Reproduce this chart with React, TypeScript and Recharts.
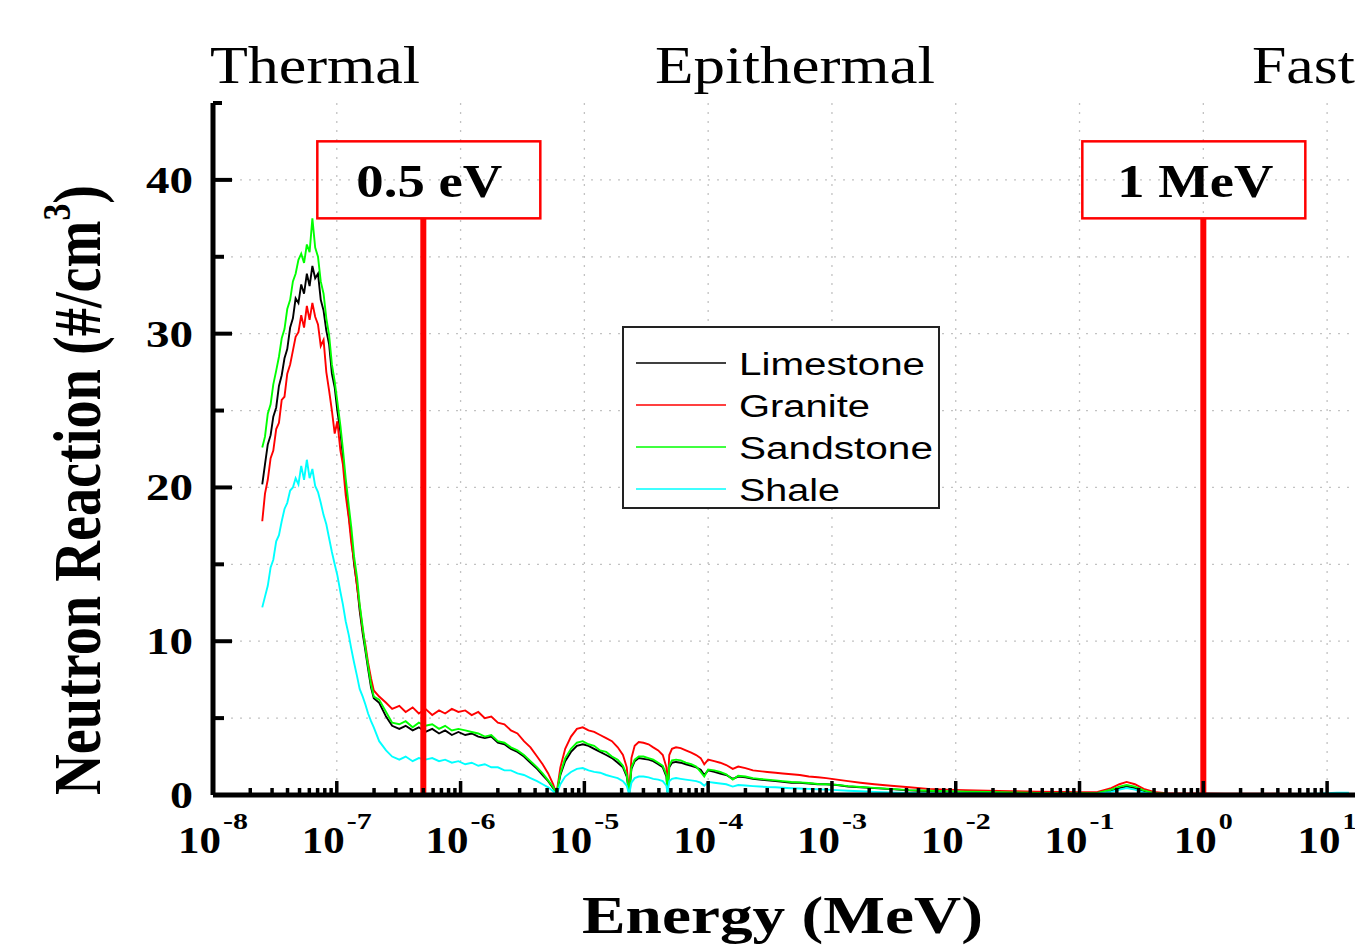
import React from 'react';
import { LineChart, Line, XAxis, YAxis, CartesianGrid, ReferenceLine, Legend } from 'recharts';

// ---------- DATA ----------
const energy = [
  2.5e-8, 2.63e-8, 2.77e-8, 2.92e-8, 3.07e-8, 3.24e-8, 3.41e-8, 3.59e-8, 3.78e-8, 3.98e-8,
  4.2e-8, 4.42e-8, 4.65e-8, 4.9e-8, 5.16e-8, 5.44e-8, 5.73e-8, 6.03e-8, 6.35e-8, 6.69e-8,
  7.05e-8, 7.42e-8, 7.82e-8, 8.23e-8, 8.67e-8, 9.13e-8, 9.62e-8, 1.01e-7, 1.07e-7, 1.12e-7,
  1.18e-7, 1.25e-7, 1.31e-7, 1.38e-7, 1.46e-7, 1.53e-7, 1.62e-7, 1.7e-7, 1.79e-7, 1.89e-7,
  1.99e-7,
  2.2e-7, 2.5e-7, 2.8e-7, 3.2e-7, 3.6e-7, 4.1e-7, 4.6e-7, 5.2e-7, 5.9e-7, 6.7e-7,
  7.5e-7, 8.5e-7, 9.6e-7, 1.09e-6, 1.23e-6, 1.39e-6, 1.57e-6, 1.77e-6, 2.0e-6, 2.26e-6,
  2.55e-6, 2.88e-6, 3.25e-6, 3.67e-6, 4.15e-6, 4.6e-6, 5.1e-6, 5.6e-6, 5.95e-6,
  6.4e-6, 7.0e-6, 7.8e-6, 8.7e-6, 9.7e-6, 1.08e-5, 1.2e-5, 1.34e-5, 1.5e-5, 1.67e-5,
  1.86e-5, 2.05e-5, 2.2e-5, 2.3e-5,
  2.4e-5, 2.55e-5, 2.75e-5, 3.0e-5, 3.3e-5, 3.6e-5, 3.95e-5, 4.3e-5, 4.6e-5, 4.7e-5,
  4.85e-5, 5.1e-5, 5.5e-5, 6.0e-5, 6.6e-5, 7.3e-5, 8.0e-5, 8.7e-5, 9.3e-5, 1.0e-4,
  1.12e-4, 1.25e-4, 1.4e-4, 1.58e-4, 1.75e-4, 2.0e-4, 2.3e-4, 2.6e-4, 3.0e-4, 3.5e-4,
  4.0e-4, 4.7e-4, 5.5e-4, 6.5e-4, 7.7e-4, 9.0e-4, 1.1e-3, 1.35e-3, 1.7e-3, 2.2e-3,
  3.0e-3, 4.2e-3, 6e-3, 8.5e-3, 1.2e-2, 1.8e-2, 2.8e-2, 4.5e-2, 7e-2, 1.0e-1,
  1.4e-1, 1.8e-1, 2.1e-1, 2.4e-1, 2.8e-1, 3.3e-1, 4.0e-1, 5e-1, 7e-1, 1.0,
  1.5, 2.5, 4, 6, 9, 12, 15,
];

const limestone = [
  20.2, 21.5, 22.8, 23.4, 24.6, 25.2, 26.6, 27.3, 28.4, 29.0,
  30.4, 31.0, 32.3, 32.0, 33.2, 32.6, 33.9, 33.1, 34.4, 33.6,
  33.9, 32.2, 31.5, 30.2, 29.3, 27.4, 26.5, 25.0, 23.6, 22.0,
  20.1, 18.2, 16.8, 15.0, 13.6, 12.0, 10.5, 9.4, 8.2, 7.0,
  6.3,
  6.0, 5.1, 4.5, 4.3, 4.5, 4.2, 4.4, 4.1, 4.3, 4.0,
  4.2, 3.9, 4.1, 3.9, 4.0, 3.8, 3.7, 3.8, 3.4, 3.3,
  3.0, 2.8, 2.5, 2.1, 1.7, 1.3, 0.9, 0.45, 0.05,
  1.3, 2.2, 2.8, 3.2, 3.3, 3.2, 3.0, 2.8, 2.6, 2.4,
  2.1, 1.8, 1.2, 0.1,
  1.7, 2.2, 2.4, 2.35, 2.3, 2.2, 2.0, 1.8, 1.2, 0.2,
  1.8, 2.1, 2.15, 2.1, 2.0, 1.9, 1.8, 1.65, 1.3, 1.6,
  1.5, 1.4, 1.3, 1.05, 1.2, 1.15, 1.05, 1.0, 0.95, 0.9,
  0.85, 0.8, 0.8, 0.75, 0.7, 0.7, 0.65, 0.55, 0.5, 0.45,
  0.38, 0.3, 0.26, 0.22, 0.2, 0.18, 0.15, 0.12, 0.1, 0.1,
  0.1, 0.25, 0.45, 0.55, 0.45, 0.25, 0.1, 0.06, 0.05, 0.05,
  0.05, 0.05, 0.05, 0.05, 0.05, 0.05, 0.05,
];

const granite = [
  17.8, 19.6, 20.5, 21.9, 22.4, 23.8, 24.2, 25.7, 25.9, 27.4,
  28.0, 28.9, 29.8, 30.1, 31.2, 30.4, 31.8, 30.9, 32.0, 31.1,
  30.6, 29.2, 29.6, 27.5, 26.3, 25.0, 23.5, 24.3, 22.4, 21.5,
  19.5, 18.0, 16.4, 15.2, 13.5, 12.3, 10.7, 9.8, 8.6, 7.6,
  6.8,
  6.4, 6.0, 5.6, 5.8, 5.4, 5.7, 5.3, 5.6, 5.2, 5.5,
  5.3, 5.6, 5.4, 5.5, 5.2, 5.4, 5.0, 5.1, 4.7, 4.6,
  4.2, 4.0, 3.5, 3.1, 2.5, 2.0, 1.4, 0.7, 0.05,
  1.8, 3.0, 3.8, 4.3, 4.4, 4.2, 4.1, 3.9, 3.7, 3.5,
  3.1, 2.6, 1.8, 0.1,
  2.4, 3.2, 3.45, 3.4, 3.3, 3.1, 2.9, 2.6, 1.8, 0.3,
  2.6, 3.0, 3.1, 3.05, 2.9, 2.75, 2.6, 2.4, 2.0, 2.3,
  2.2, 2.1, 1.95, 1.7, 1.85, 1.75, 1.6, 1.55, 1.5, 1.45,
  1.4, 1.35, 1.3, 1.2, 1.15, 1.1, 1.0, 0.9, 0.8, 0.7,
  0.6, 0.5, 0.4, 0.35, 0.32, 0.28, 0.25, 0.22, 0.2, 0.18,
  0.2, 0.45, 0.7, 0.85, 0.7, 0.4, 0.2, 0.12, 0.1, 0.1,
  0.09, 0.08, 0.08, 0.07, 0.07, 0.06, 0.06,
];

const sandstone = [
  22.6, 23.3, 24.8, 25.4, 26.7, 27.6, 28.5, 29.7, 30.3, 31.6,
  32.2, 33.4, 33.9, 34.8, 35.2, 34.6, 35.8, 35.3, 37.5, 35.6,
  35.0, 33.4, 32.6, 31.0, 29.9, 28.0, 26.9, 25.6, 24.0, 22.5,
  20.6, 18.8, 17.4, 15.5, 14.1, 12.4, 10.9, 9.6, 8.4, 7.2,
  6.4,
  6.2, 5.4, 4.7, 4.6, 4.8, 4.4, 4.7, 4.5, 4.6, 4.3,
  4.5, 4.2, 4.3, 4.2, 4.1, 4.0, 3.8, 3.9, 3.5, 3.4,
  3.1, 2.9, 2.6, 2.2, 1.8, 1.4, 0.95, 0.5, 0.05,
  1.4, 2.4, 3.0, 3.4, 3.5, 3.3, 3.2, 2.9, 2.8, 2.5,
  2.3, 1.9, 1.3, 0.1,
  1.8, 2.3, 2.5, 2.5, 2.4, 2.3, 2.1, 1.9, 1.3, 0.2,
  1.9, 2.25, 2.3, 2.25, 2.1, 2.0, 1.85, 1.5, 1.2, 1.65,
  1.6, 1.5, 1.35, 1.0, 1.25, 1.2, 1.1, 1.05, 1.0, 0.95,
  0.9, 0.85, 0.82, 0.78, 0.72, 0.7, 0.66, 0.58, 0.52, 0.46,
  0.4, 0.32, 0.28, 0.24, 0.22, 0.2, 0.17, 0.14, 0.12, 0.12,
  0.14, 0.35, 0.55, 0.65, 0.55, 0.3, 0.12, 0.08, 0.07, 0.07,
  0.06, 0.06, 0.05, 0.05, 0.05, 0.05, 0.05,
];

const shale = [
  12.2, 12.9, 13.6, 14.8, 15.3, 16.5, 16.9, 17.8, 18.6, 19.0,
  19.8, 20.0, 20.6, 20.2, 21.4, 20.5, 21.8, 20.6, 21.2, 20.1,
  19.7, 19.0, 18.2, 17.6, 16.7, 15.8, 15.0, 14.3, 13.2, 12.4,
  11.3, 10.4, 9.5, 8.6, 7.7, 6.9, 6.4, 5.9, 5.3, 4.8,
  4.4,
  3.5, 2.9, 2.5, 2.3, 2.5, 2.2, 2.4, 2.3, 2.4, 2.2,
  2.3, 2.1, 2.2, 2.0, 2.1, 1.9, 2.0, 1.8, 1.8, 1.6,
  1.6, 1.4, 1.3, 1.1, 0.9, 0.7, 0.5, 0.25, 0.02,
  0.7, 1.2, 1.5, 1.7, 1.75, 1.6, 1.5, 1.45, 1.3, 1.2,
  1.1, 0.9, 0.6, 0.05,
  0.8, 1.1, 1.2, 1.2, 1.15, 1.05, 1.0, 0.9, 0.6, 0.1,
  0.9, 1.05, 1.1, 1.05, 1.0, 0.95, 0.9, 0.8, 0.6, 0.85,
  0.8, 0.75, 0.7, 0.55, 0.65, 0.62, 0.58, 0.55, 0.52, 0.5,
  0.47, 0.44, 0.42, 0.4, 0.37, 0.35, 0.32, 0.28, 0.24, 0.2,
  0.16, 0.13, 0.11, 0.1, 0.09, 0.08, 0.07, 0.06, 0.06, 0.06,
  0.08, 0.2, 0.35, 0.45, 0.35, 0.15, 0.06, 0.04, 0.04, 0.04,
  0.04, 0.04, 0.04, 0.05, 0.1, 0.15, 0.15,
];

const seriesNames = ['Limestone', 'Granite', 'Sandstone', 'Shale'];
const seriesKeys = ['limestone', 'granite', 'sandstone', 'shale'];

const decades = [1e-8, 1e-7, 1e-6, 1e-5, 1e-4, 1e-3, 1e-2, 1e-1, 1, 10];
const decadeExponents = ['-8', '-7', '-6', '-5', '-4', '-3', '-2', '-1', '0', '1'];
const minorMultipliers = [2, 3, 4, 5, 6, 7, 8, 9];
const yTicks = [0, 5, 10, 15, 20, 25, 30, 35, 40, 45];
const yGridValues = [5, 10, 15, 20, 25, 30, 35, 40];
const regionLabels = ['Thermal', 'Epithermal', 'Fast'];
const markerEnergies = [5e-7, 1];
const markerLabels = ['0.5 eV', '1 MeV'];
const markerTop = 37.5;

// ---------- STYLE ----------
const W = 1355;
const H = 946;
const X_MAX = 16.8;
const seriesColors = ['#000000', '#ff0000', '#00ff00', '#00ffff'];
const legendTextWidths = [186, 131, 194, 101];
const regionLabelPos = [
  { x: 210, w: 210 },
  { x: 655, w: 280 },
  { x: 1252, w: 103 },
];
const markerStyle = [
  { boxDx: -106, textDx: -67, textW: 146 },
  { boxDx: -121, textDx: -86, textW: 156 },
];
const SERIF = '"Liberation Serif", "Times New Roman", serif';
const SANS = '"Liberation Sans", Arial, sans-serif';

const rows = energy.map((e, i) => ({
  energy: e,
  limestone: limestone[i],
  granite: granite[i],
  sandstone: sandstone[i],
  shale: shale[i],
}));

const xTicks = decades
  .flatMap((d) => [d, ...minorMultipliers.map((m) => d * m)])
  .filter((v) => v <= X_MAX);

const XTick = (props: any) => {
  const { x, y, payload } = props;
  const v = payload.value;
  const idx = decades.findIndex((d) => Math.abs(d - v) / d < 1e-6);
  const major = idx >= 0;
  const exp = major ? decadeExponents[idx] : '';
  const supW = exp.length > 1 ? 25 : 14;
  const total = 43 + 2 + supW;
  const start = x - total / 2;
  return (
    <g>
      <line x1={x} x2={x} y1={y} y2={y - (major ? 14 : 7)} stroke="#000" strokeWidth={3.5} />
      {major && (
        <g fontFamily={SERIF} fontWeight="bold" fill="#000">
          <text x={start} y={y + 58} fontSize={38} textLength={43} lengthAdjust="spacingAndGlyphs">
            10
          </text>
          <text x={start + 45} y={y + 34} fontSize={24} textLength={supW} lengthAdjust="spacingAndGlyphs">
            {exp}
          </text>
        </g>
      )}
    </g>
  );
};

const YTick = (props: any) => {
  const { x, y, payload } = props;
  const v = payload.value;
  const len = v === 45 ? 9 : v % 10 === 0 ? 19 : 11;
  const labelled = v % 10 === 0 && v <= 40;
  const w = String(v).length > 1 ? 47 : 23;
  return (
    <g>
      {v !== 0 && <line x1={x} x2={x + len} y1={y} y2={y} stroke="#000" strokeWidth={4} />}
      {labelled && (
        <text
          x={x - 20 - w}
          y={y + 13}
          fontFamily={SERIF}
          fontWeight="bold"
          fontSize={38}
          fill="#000"
          textLength={w}
          lengthAdjust="spacingAndGlyphs"
        >
          {v}
        </text>
      )}
    </g>
  );
};

const makeMarkerLabel = (i: number) => (props: any) => {
  const vb = props.viewBox || {};
  const x = vb.x;
  const top = vb.y;
  const s = markerStyle[i];
  if (typeof x !== 'number' || typeof top !== 'number') return null;
  return (
    <g>
      <rect x={x + s.boxDx} y={top - 77} width={223} height={77} fill="none" stroke="#ff0000" strokeWidth={2.5} />
      <text
        x={x + s.textDx}
        y={top - 21}
        fontFamily={SERIF}
        fontWeight="bold"
        fontSize={46}
        fill="#000"
        textLength={s.textW}
        lengthAdjust="spacingAndGlyphs"
      >
        {markerLabels[i]}
      </text>
    </g>
  );
};

const LegendBox = () => (
  <svg width={318} height={183} style={{ display: 'block' }}>
    <rect x={1} y={1} width={316} height={181} fill="#fff" stroke="#222" strokeWidth={2} />
    {seriesNames.map((name, i) => {
      const cy = 37 + i * 42;
      return (
        <g key={name}>
          <line x1={14} x2={104} y1={cy} y2={cy} stroke={seriesColors[i]} strokeWidth={1.5} />
          <text
            x={117}
            y={cy + 12}
            fontFamily={SANS}
            fontSize={31}
            fill="#000"
            textLength={legendTextWidths[i]}
            lengthAdjust="spacingAndGlyphs"
          >
            {name}
          </text>
        </g>
      );
    })}
  </svg>
);

export default function App() {
  return (
    <div style={{ position: 'absolute', left: 0, top: 0, width: W, height: H, background: '#fff', overflow: 'hidden' }}>
      <LineChart width={W} height={H} data={rows} margin={{ top: 103, right: 0, bottom: 0, left: 0 }}>
        <CartesianGrid
          stroke="#c2c2c2"
          strokeWidth={1.3}
          strokeDasharray="2 7"
          horizontalValues={yGridValues}
          verticalValues={decades.slice(1)}
        />
        <XAxis
          dataKey="energy"
          type="number"
          scale="log"
          domain={[1e-8, X_MAX]}
          allowDataOverflow
          ticks={xTicks}
          interval={0}
          tick={(p: any) => <XTick {...p} />}
          tickLine={false}
          tickSize={0}
          tickMargin={0}
          axisLine={{ stroke: '#000', strokeWidth: 5 }}
          height={151}
        />
        <YAxis
          type="number"
          domain={[0, 45]}
          ticks={yTicks}
          interval={0}
          tick={(p: any) => <YTick {...p} />}
          tickLine={false}
          tickSize={0}
          tickMargin={0}
          axisLine={{ stroke: '#000', strokeWidth: 5 }}
          width={213}
        />
        {seriesKeys.map((k, i) => (
          <Line
            key={k}
            dataKey={k}
            name={seriesNames[i]}
            type="linear"
            stroke={seriesColors[i]}
            strokeWidth={1.9}
            dot={false}
            activeDot={false}
            isAnimationActive={false}
          />
        ))}
        {markerEnergies.map((e, i) => (
          <ReferenceLine
            key={i}
            segment={[
              { x: e, y: 0 },
              { x: e, y: markerTop },
            ]}
            stroke="#ff0000"
            strokeWidth={6}
            label={makeMarkerLabel(i)}
          />
        ))}
        <Legend
          layout="horizontal"
          verticalAlign="middle"
          align="center"
          wrapperStyle={{ left: 622, top: 326, width: 318, height: 183 }}
          content={() => <LegendBox />}
        />
      </LineChart>
      <svg
        width={W}
        height={H}
        style={{ position: 'absolute', left: 0, top: 0, pointerEvents: 'none' }}
      >
        {regionLabels.map((t, i) => (
          <text
            key={t}
            x={regionLabelPos[i].x}
            y={83}
            fontFamily={SERIF}
            fontSize={53}
            fill="#000"
            textLength={regionLabelPos[i].w}
            lengthAdjust="spacingAndGlyphs"
          >
            {t}
          </text>
        ))}
        <text
          x={582}
          y={933}
          fontFamily={SERIF}
          fontWeight="bold"
          fontSize={53}
          fill="#000"
          textLength={401}
          lengthAdjust="spacingAndGlyphs"
        >
          Energy (MeV)
        </text>
        <g transform="translate(100,795) scale(1.17,1) rotate(-90)">
          <text
            x={0}
            y={0}
            fontFamily={SERIF}
            fontWeight="bold"
            fontSize={57}
            fill="#000"
            textLength={610}
            lengthAdjust="spacingAndGlyphs"
          >
            Neutron Reaction (#/cm
            <tspan fontSize={34} dy={-26}>3</tspan>
            <tspan dy={26}>)</tspan>
          </text>
        </g>
      </svg>
    </div>
  );
}
